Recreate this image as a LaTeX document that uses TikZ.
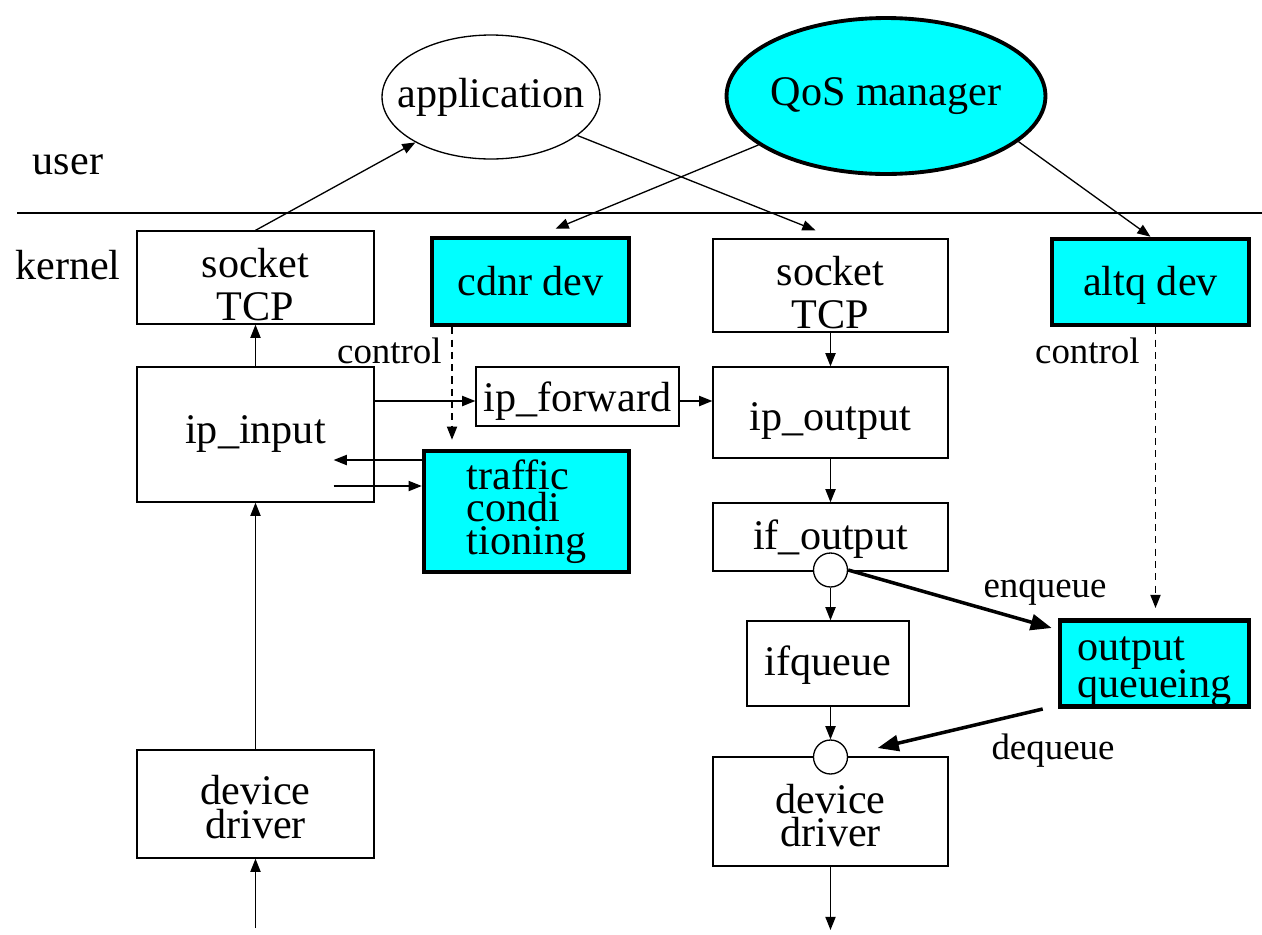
\documentclass[tikz,border=0pt]{standalone}
\usepackage{fontspec}
\setmainfont{Liberation Serif}
\usetikzlibrary{shapes.geometric,arrows.meta}
\definecolor{qcyan}{HTML}{00FFFF}
% invisible rule that lowers a label inside its box
\newcommand\topgap[1]{\rule{0pt}{#1}}
\begin{document}
\begin{tikzpicture}[x=0.02cm,y=-0.02cm,
  box/.style={draw, line width=0.75pt, fill=white, inner sep=0pt, align=center,
    font=\fontsize{24}{24.4}\selectfont},
  qbox/.style={box, fill=qcyan, line width=2.6pt},
  ring/.style={circle, draw, line width=0.75pt, fill=white, minimum size=0.68cm, inner sep=0pt},
  oval/.style={ellipse, draw, line width=0.75pt, inner xsep=-0.4cm, inner ysep=0pt,
    font=\fontsize{24}{24}\selectfont},
  side/.style={font=\fontsize{24}{24}\selectfont, inner sep=0pt},
  tag/.style={font=\fontsize{21}{21}\selectfont, inner sep=0pt},
  arr/.style={line width=0.75pt, -{Triangle[length=7.5pt,width=5.8pt]}},
  bigarr/.style={line width=2pt, -{Triangle[length=12pt,width=9pt]}},
  dasharr/.style={arr, dash pattern=on 4pt off 3pt}]

\useasboundingbox[fill=white] (0,0) rectangle (1262,934);

% user / kernel divider
\coordinate (dl) at (17,213);
\coordinate (dr) at (1262,213);
\draw[line width=0.8pt] (dl) -- (dr);
\node[side] (user) at (68,165) {user};
\node[side] (kernel) at (68,265) {kernel};

% user-space processes
\node[oval, minimum width=4.36cm, minimum height=2.48cm] (app) at (491,97) {application};
\node[oval, fill=qcyan, line width=2.2pt, minimum width=6.38cm, minimum height=3.12cm] (qos) at (886,96) {QoS manager};

% kernel blocks
\node[box, minimum width=4.74cm, minimum height=1.86cm] (sockL) at (255.5,277.5) {\topgap{24.5pt}socket\\TCP};
\node[qbox, minimum width=3.94cm, minimum height=1.74cm] (cdnr) at (530.5,281.5) {cdnr dev};
\node[box, minimum width=4.70cm, minimum height=1.86cm] (sockM) at (830.5,285.5) {\topgap{25pt}socket\\TCP};
\node[qbox, minimum width=3.94cm, minimum height=1.72cm] (altq) at (1150.5,282) {\topgap{21pt}altq dev};
\node[box, minimum width=4.74cm, minimum height=2.70cm] (ipin) at (255.5,434.5) {ip\_input};
\node[box, minimum width=4.06cm, minimum height=1.18cm] (ipfwd) at (577.5,396.5) {\topgap{22pt}ip\_forward};
\node[box, minimum width=4.70cm, minimum height=1.82cm] (ipout) at (830.5,412.5) {\topgap{25.4pt}ip\_output};
\node[qbox, minimum width=4.10cm, minimum height=2.42cm, align=left,
  font=\fontsize{24}{18.5}\selectfont] (traffic) at (526.5,511.5) {traffic\\condi\\tioning};
\node[box, minimum width=4.70cm, minimum height=1.36cm] (ifout) at (830.5,537) {\topgap{19pt}if\_output};
\node[box, minimum width=3.24cm, minimum height=1.70cm] (ifq) at (828,663.5) {\topgap{19pt}ifqueue};
\node[qbox, minimum width=3.78cm, minimum height=1.70cm, align=left,
  font=\fontsize{24}{21}\selectfont] (outq) at (1154.5,663.5) {\topgap{23pt}output\\queueing};
\node[box, minimum width=4.70cm, minimum height=2.18cm,
  font=\fontsize{24}{19}\selectfont] (ddR) at (830.5,811.5) {\topgap{21pt}device\\driver};
\node[box, minimum width=4.74cm, minimum height=2.16cm,
  font=\fontsize{24}{19}\selectfont] (ddL) at (255.5,804) {\topgap{20pt}device\\driver};
\node[ring] (c1) at (830.5,570) {};
\node[ring] (c2) at (830.5,757) {};

% user <-> kernel
\draw[arr] (sockL.north) -- (app.211);
\draw[arr] (app.-24) -- ([xshift=-0.3cm,yshift=0.16cm]sockM.north);
\draw[arr] (qos.201) -- ([xshift=0.5cm,yshift=0.14cm]cdnr.north);
\draw[arr] (qos.-19.5) -- (altq.north);

% input path
\coordinate (inL) at (255.5,928);
\draw[arr] (inL) -- (ddL.south);
\draw[arr] (ddL.north) -- (ipin.south);
\draw[arr] (ipin.north) -- (sockL.south);
\coordinate (fwdin) at ([yshift=-0.09cm]ipfwd.west);
\draw[arr] (ipin.east |- fwdin) -- (fwdin);
\draw[arr] (fwdin -| ipfwd.east) -- (fwdin -| ipout.west);

% traffic conditioning loop
\coordinate (ipx) at ([xshift=-0.82cm]ipin.east);
\coordinate (tl1) at ([yshift=1.03cm]traffic.west);
\coordinate (tl2) at ([yshift=0.51cm]traffic.west);
\draw[arr] (tl1) -- (ipx |- tl1);
\draw[arr] (ipx |- tl2) -- (tl2);

% control paths
\coordinate (cd) at ([xshift=-1.57cm]cdnr.south);
\draw[dasharr, shorten >=0.18cm] (cd) -- (cd |- traffic.north);
\node[tag, anchor=east] (ctl1) at (442,351) {control};
\coordinate (aq) at ([xshift=0.1cm]altq.south);
\draw[dasharr, shorten >=0.2cm] (aq) -- (aq |- outq.north);
\node[tag, anchor=east] (ctl2) at (1140,351) {control};

% output path
\draw[arr] (sockM.south) -- (ipout.north);
\draw[arr] (ipout.south) -- (ifout.north);
\draw[arr] (c1.south) -- (c1.south |- ifq.north);
\draw[arr] (ifq.south -| c2) -- (c2.north);
\coordinate (outR) at (830.5,930);
\draw[arr] (ddR.south) -- (outR);

% queueing hooks
\coordinate (enqend) at ([xshift=-0.12cm,yshift=0.71cm]outq.west);
\draw[bigarr] (c1.east) -- (enqend);
\node[tag] (enq) at (1045,593) {enqueue};
\coordinate (deqs) at ([xshift=-0.3cm]outq.south west);
\coordinate (deqe) at ([xshift=0.59cm,yshift=0.18cm]c2.east);
\draw[bigarr] (deqs) -- (deqe);
\node[tag] (deq) at (1053,751) {dequeue};
\end{tikzpicture}
\end{document}
